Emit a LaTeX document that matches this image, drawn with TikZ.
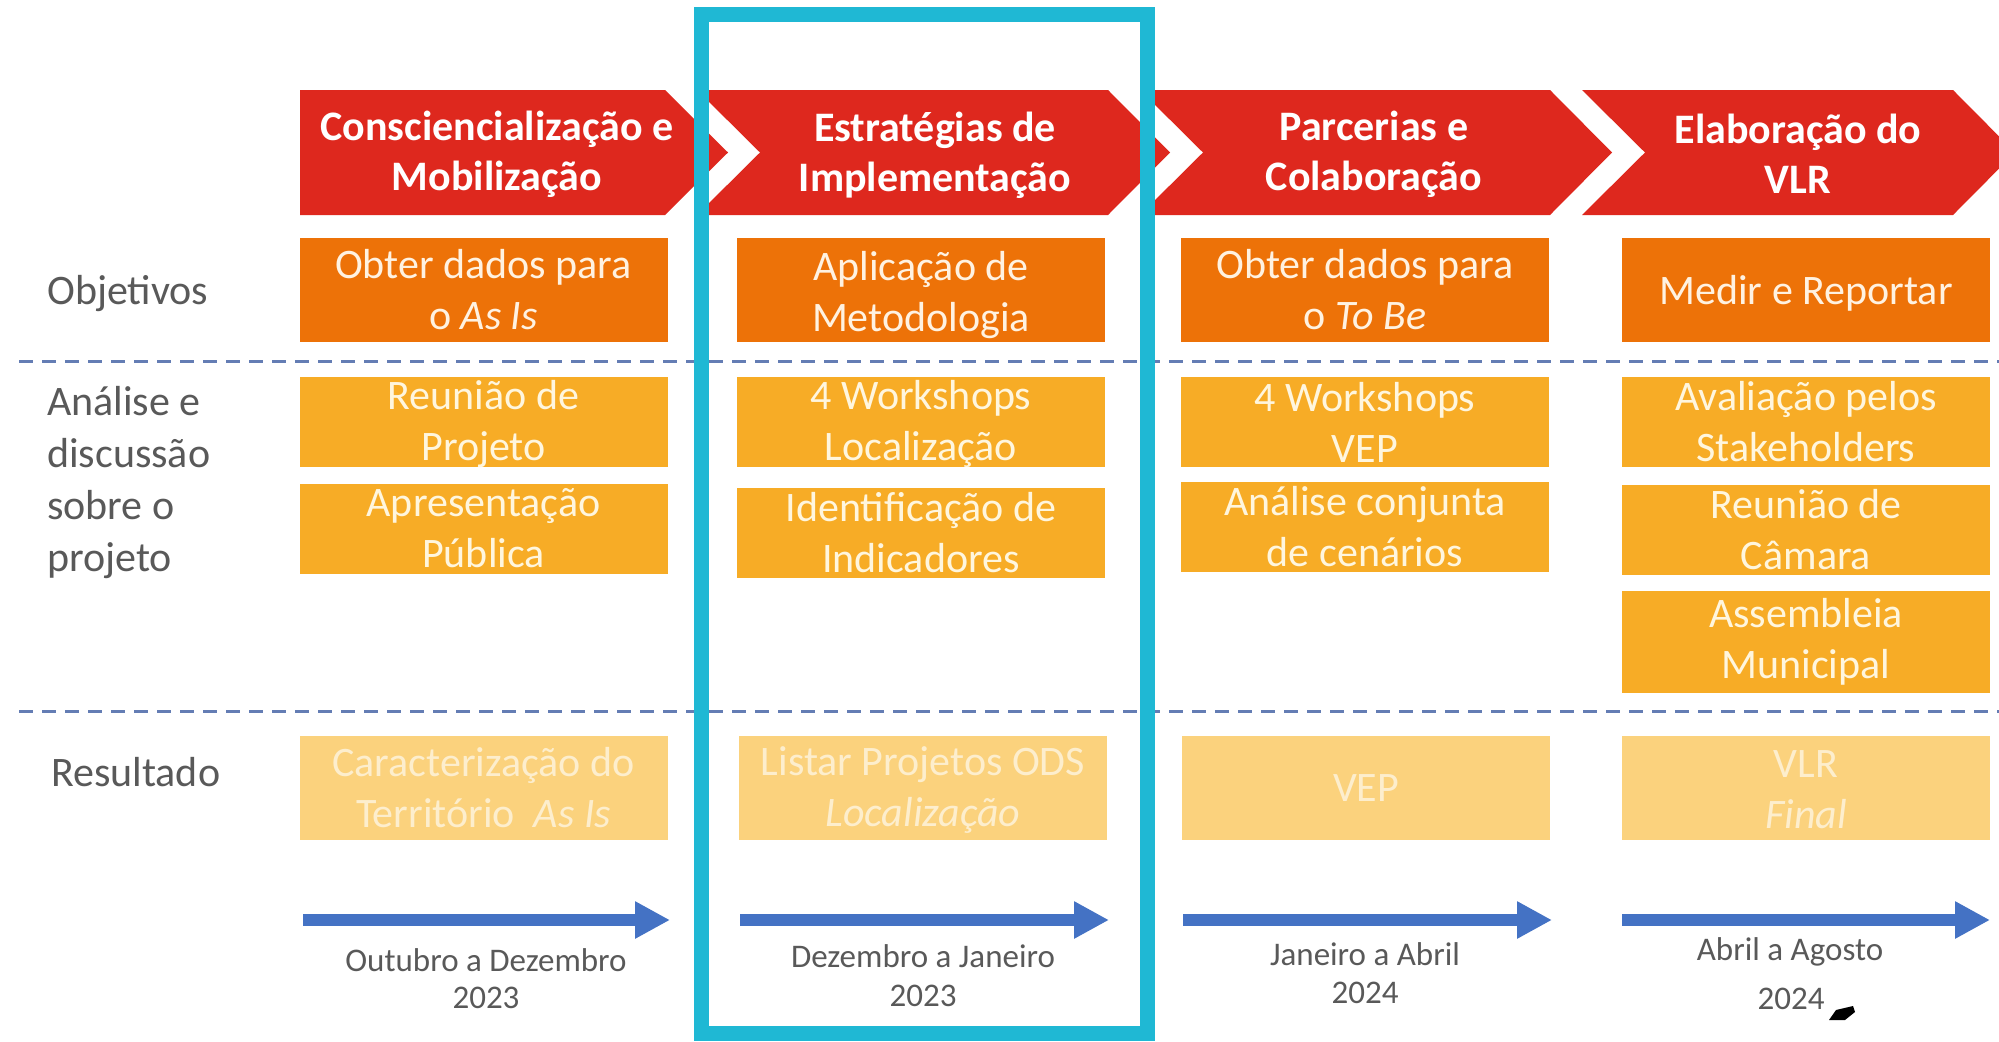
\documentclass[tikz,border=0pt]{standalone}
\usepackage{fontspec}
\setmainfont{Carlito}
\usetikzlibrary{arrows.meta}
\definecolor{chevred}{RGB}{222,40,30}
\definecolor{objor}{RGB}{237,114,8}
\definecolor{anaor}{RGB}{247,172,38}
\definecolor{resor}{RGB}{251,210,125}
\definecolor{objtxt}{RGB}{255,242,225}
\definecolor{anatxt}{RGB}{255,246,222}
\definecolor{restxt}{RGB}{253,238,205}
\definecolor{labgray}{RGB}{89,89,89}
\definecolor{dashblue}{RGB}{100,125,180}
\definecolor{arrblue}{RGB}{68,114,196}
\definecolor{framecyan}{RGB}{31,184,212}
\tikzset{
  chevshape/.style={fill=chevred, draw=none},
  chevtxt/.style={text=white, font=\fontsize{42}{50}\selectfont\bfseries, align=center, inner sep=0pt},
  boxfill/.style={rectangle, draw=none, inner sep=0pt, minimum width=368pt},
  objbox/.style={boxfill, fill=objor, minimum height=104pt},
  anabox/.style={boxfill, fill=anaor, minimum height=90pt},
  resbox/.style={boxfill, fill=resor, minimum height=104pt},
  boxtxt/.style={align=center, inner sep=0pt, font=\fontsize{42}{51}\selectfont},
  objt/.style={boxtxt, text=objtxt},
  anat/.style={boxtxt, text=anatxt},
  rest/.style={boxtxt, text=restxt},
  sidelab/.style={anchor=west, align=left, inner sep=0pt, text=labgray, font=\fontsize{42}{52}\selectfont},
  datelab/.style={inner sep=0pt, text=labgray, font=\fontsize{33}{40}\selectfont},
  timearrow/.style={draw=arrblue, line width=12pt, -{Triangle[length=35pt,width=35pt]}},
  sepline/.style={draw=dashblue, line width=3pt, dash pattern=on 14pt off 9pt},
  framebox/.style={draw=framecyan, line width=15pt}
}
\begin{document}
\begin{tikzpicture}[x=1pt,y=-1pt]
\useasboundingbox (0,0) rectangle (1999,1041);
\begin{scope}
\clip (0,0) rectangle (1999,1041);
\fill[white] (0,0) rectangle (1999,1041);
% chevrons
\path[chevshape] (300,90) -- (665,90) -- (728,152.5) -- (665,215) -- (300,215) -- cycle;
\path[chevshape] (697,90) -- (1108,90) -- (1170,152.5) -- (1108,215) -- (697,215) -- (760,152.5) -- cycle;
\path[chevshape] (1140,90) -- (1550,90) -- (1612,152.5) -- (1550,215) -- (1140,215) -- (1203,152.5) -- cycle;
\path[chevshape] (1582,90) -- (1953,90) -- (2015,152.5) -- (1953,215) -- (1582,215) -- (1645,152.5) -- cycle;
\node[chevtxt] (ch1) at (497,154) {Consciencialização e\\Mobilização};
\node[chevtxt] (ch2) at (935,155) {Estratégias de\\Implementação};
\node[chevtxt] (ch3) at (1374,154) {Parcerias e\\Colaboração};
\node[chevtxt] (ch4) at (1798,154) {Elaboração do\\VLR};
% separators
\coordinate (s1a) at (19,361); \coordinate (s1b) at (1999,361);
\coordinate (s2a) at (19,711); \coordinate (s2b) at (1999,711);
\draw[sepline] (s1a) -- (s1b);
\draw[sepline] (s2a) -- (s2b);
% side labels
\node[sidelab] (lobj) at (47,294) {Objetivos};
\node[sidelab] (lana) at (47,483) {Análise e\\discussão\\sobre o\\projeto};
\node[sidelab] (lres) at (51,772) {Resultado};
% row 1: objetivos
\node[objbox] (o1) at (483.5,290) {};
\node[objbox] (o2) at (921,290) {};
\node[objbox] (o3) at (1365,290) {};
\node[objbox] (o4) at (1806,290) {};
\node[objt] (o1t) at (o1) {Obter dados para\\o \textit{As Is}};
\node[objt] (o2t) at ([yshift=-5pt]o2) {Aplicação de\\Metodologia};
\node[objt] (o3t) at (o3) {Obter dados para\\o \textit{To Be}};
\node[objt] (o4t) at ([yshift=-3pt]o4) {Medir e Reportar};
% row 2: analise
\node[anabox] (a1) at (483.5,422) {};
\node[anabox] (b1) at (483.5,528.5) {};
\node[anabox] (a2) at (921,422) {};
\node[anabox] (b2) at (921,533) {};
\node[anabox] (a3) at (1365,422) {};
\node[anabox] (b3) at (1365,527) {};
\node[anabox] (a4) at (1806,422) {};
\node[anabox] (b4) at (1806,529.5) {};
\node[anabox, minimum height=102pt] (c4) at (1806,642) {};
\node[anat] (a1t) at ([yshift=-2pt]a1) {Reunião de\\Projeto};
\node[anat] (b1t) at (b1) {Apresentação\\Pública};
\node[anat] (a2t) at ([yshift=-2pt]a2) {4 Workshops\\Localização};
\node[anat] (b2t) at (b2) {Identificação de\\Indicadores};
\node[anat] (a3t) at (a3) {4 Workshops\\VEP};
\node[anat] (b3t) at (b3) {Análise conjunta\\de cenários};
\node[anat] (a4t) at (a4) {Avaliação pelos\\Stakeholders};
\node[anat] (b4t) at (b4) {Reunião de\\Câmara};
\node[anat] (c4t) at (c4) {Assembleia\\Municipal};
% row 3: resultado
\node[resbox] (r1) at (483.5,788) {};
\node[resbox] (r2) at (923,788) {};
\node[resbox] (r3) at (1366,788) {};
\node[resbox] (r4) at (1806,788) {};
\node[rest] (r1t) at (r1) {Caracterização do\\Território~ \textit{As Is}};
\node[rest] (r2t) at ([yshift=-2pt]r2) {Listar Projetos ODS\\\textit{Localização}};
\node[rest] (r3t) at (r3) {VEP};
\node[rest] (r4t) at ([yshift=-2pt]r4) {VLR\\\textit{Final}};
% timeline arrows
\coordinate (t1a) at (303,920); \coordinate (t1b) at (670,920);
\coordinate (t2a) at (740,920); \coordinate (t2b) at (1109,920);
\coordinate (t3a) at (1183,920); \coordinate (t3b) at (1552,920);
\coordinate (t4a) at (1622,920); \coordinate (t4b) at (1990,920);
\draw[timearrow] (t1a) -- (t1b);
\draw[timearrow] (t2a) -- (t2b);
\draw[timearrow] (t3a) -- (t3b);
\draw[timearrow] (t4a) -- (t4b);
% dates
\node[datelab] (d1a) at (486,960) {Outubro a Dezembro};
\node[datelab] (d1b) at (486,998) {2023};
\node[datelab] (d2a) at (923,956) {Dezembro a Janeiro};
\node[datelab] (d2b) at (923,996) {2023};
\node[datelab] (d3a) at (1365,954) {Janeiro a Abril};
\node[datelab] (d3b) at (1365,993) {2024};
\node[datelab] (d4a) at (1790,952) {Abril a Agosto};
\node[datelab] (d4b) at (1791,999) {2024};
% small black mark
\fill[black] (1829,1020) -- (1836,1010) -- (1853,1006) -- (1855,1012) -- (1845,1020) -- cycle;
% highlight frame
\draw[framebox] (701,15) rectangle (1147,1033);
\end{scope}
\end{tikzpicture}
\end{document}
